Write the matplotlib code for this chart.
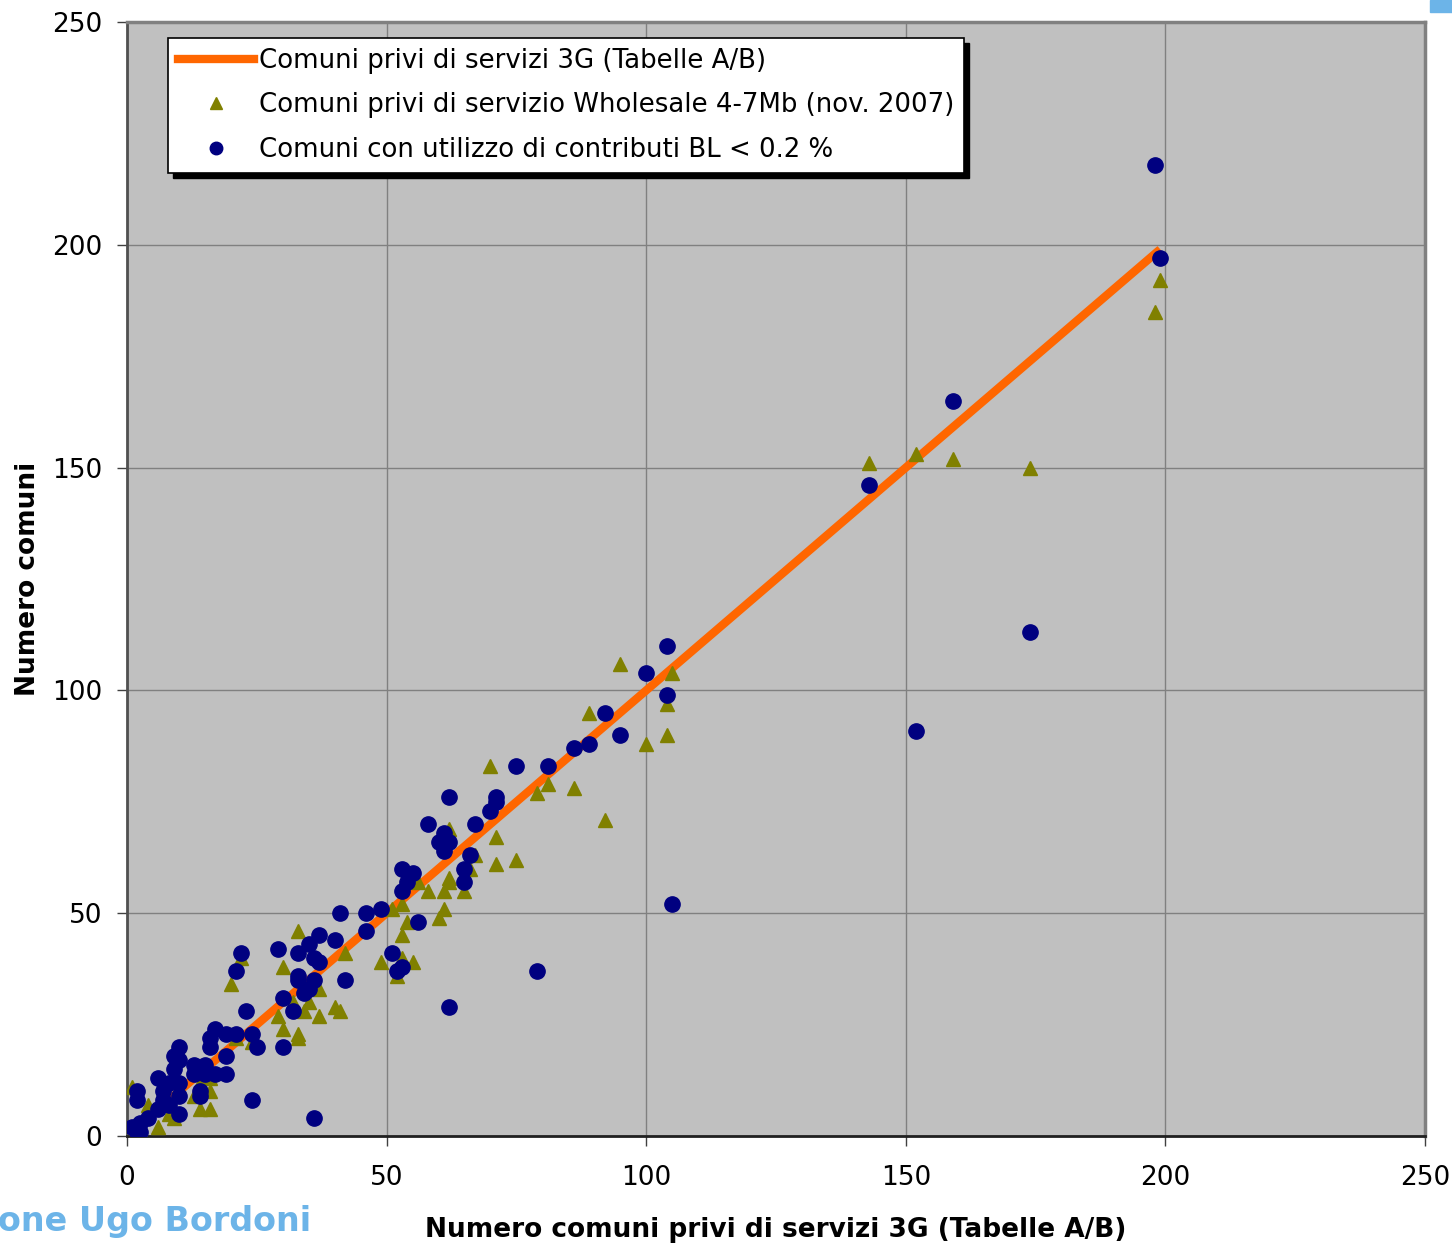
import matplotlib.pyplot as plt
from matplotlib.patches import Rectangle
from matplotlib.lines import Line2D

# Serie 3G (retta di riferimento)
line_x = [2, 199]
line_y = [2, 199]

# Comuni privi di servizio Wholesale 4-7Mb (triangoli)
tri_x = [143, 152, 159, 174, 198, 199, 95, 105, 104, 104, 100, 89, 70, 81, 79, 86, 92, 62, 71, 67,
         71, 75, 66, 62, 62, 58, 61, 65, 56, 53, 51, 61, 60, 54, 53, 49, 53, 55, 52,
         33, 30, 42, 20, 22, 37, 32, 35, 34, 40, 41, 29, 37, 30, 33,
         33, 21, 24, 1, 4, 10, 13, 16, 14, 16, 8, 9, 6, 3, 14, 16]
tri_y = [151, 153, 152, 150, 185, 192, 106, 104, 97, 90, 88, 95, 83, 79, 77, 78, 71, 69, 67, 63,
         61, 62, 60, 58, 57, 55, 55, 55, 57, 52, 51, 51, 49, 48, 45, 39, 40, 39, 36,
         46, 38, 41, 34, 40, 33, 30, 30, 28, 29, 28, 27, 27, 24, 23,
         22, 22, 21, 11, 7, 11, 9, 10, 6, 6, 5, 4, 2, 0, 12, 13]

# Comuni con utilizzo di contributi BL < 0.2 % (cerchi)
dot_x = [198, 199, 159, 143, 174, 152, 104, 100, 104, 92, 95, 89, 86, 81, 75, 71, 71, 70, 67, 62,
         58, 61, 60, 62, 61, 66, 65, 65, 105, 79, 62, 36, 24,
         53, 55, 54, 53, 46, 49, 46, 56, 51, 53, 52,
         41, 37, 40, 35, 29, 33, 22, 36, 37, 21, 33, 33, 36, 42, 35, 34, 30, 32, 23, 17, 16, 19, 21, 24,
         30, 25, 16, 10, 9, 10, 9, 19, 13, 15, 13, 15, 17, 19, 6, 8, 10, 2, 2, 7, 7, 10, 14, 14,
         6, 8, 10, 4, 2.5, 1, 2.5, 2]
dot_y = [218, 197, 165, 146, 113, 91, 110, 104, 99, 95, 90, 88, 87, 83, 83, 76, 75, 73, 70, 76,
         70, 68, 66, 66, 64, 63, 60, 57, 52, 37, 29, 4, 8,
         60, 59, 57, 55, 50, 51, 46, 48, 41, 38, 37,
         50, 45, 44, 43, 42, 41, 41, 40, 39, 37, 36, 35, 35, 35, 33, 32, 31, 28, 28, 24, 22, 23, 23, 23,
         20, 20, 20, 20, 18, 17, 15, 18, 16, 16, 14, 14, 14, 14, 13, 12, 12, 10, 8, 10, 8, 9, 10, 9,
         6, 7, 5, 4, 3, 2, 1, 1]

x_ticks = [0, 50, 100, 150, 200, 250]
y_ticks = [0, 50, 100, 150, 200, 250]

plt.rcParams['font.family'] = ['DejaVu Sans']

fig = plt.figure(figsize=(14.52, 12.5), dpi=100)
ax = fig.add_axes([127 / 1452, 1 - 1136 / 1250, (1425 - 127) / 1452, (1136 - 22) / 1250])
ax.set_facecolor('#C0C0C0')

ax.plot(line_x, line_y, color='#FF6600', lw=6, solid_capstyle='butt', zorder=2)
ax.plot(tri_x, tri_y, ls='none', marker='^', ms=10, color='#808000', mec='#808000', zorder=3)
ax.plot(dot_x, dot_y, ls='none', marker='o', ms=11, color='#000080', mec='#000080', zorder=4)

ax.set_xlim(0, 250)
ax.set_ylim(0, 250)
ax.set_xticks(x_ticks)
ax.set_yticks(y_ticks)
ax.tick_params(axis='x', labelsize=19, length=7, width=1, pad=14, direction='out', color='#404040')
ax.tick_params(axis='y', labelsize=19, length=7, width=1, pad=11, direction='out', color='#404040')
ax.grid(True, color='#808080', lw=1)
ax.set_axisbelow(True)
for side in ['top', 'right']:
    ax.spines[side].set_color('#808080')
    ax.spines[side].set_linewidth(2.5)
ax.spines['left'].set_color('#505050')
ax.spines['left'].set_linewidth(2)
ax.spines['bottom'].set_color('#202020')
ax.spines['bottom'].set_linewidth(2)

ax.set_xlabel('Numero comuni privi di servizi 3G (Tabelle A/B)', fontsize=19, fontweight='bold', va='center')
ax.xaxis.set_label_coords(0.5, -(1230 - 1136) / 1114)
ax.set_ylabel('Numero comuni', fontsize=19, fontweight='bold', va='center')
ax.yaxis.set_label_coords(-(127 - 28) / 1298, 0.5)

handles = [Line2D([], [], color='#FF6600', lw=6),
           Line2D([], [], ls='none', marker='^', ms=9, color='#808000'),
           Line2D([], [], ls='none', marker='o', ms=9, color='#000080')]
labels = ['Comuni privi di servizi 3G (Tabelle A/B)',
          'Comuni privi di servizio Wholesale 4-7Mb (nov. 2007)',
          'Comuni con utilizzo di contributi BL < 0.2 %']
leg = ax.legend(handles, labels, loc='upper left', bbox_to_anchor=((168 - 127) / 1298, (1136 - 38) / 1114),
                borderaxespad=0, fontsize=18.7, frameon=True, fancybox=False, edgecolor='black',
                facecolor='white', framealpha=1, handlelength=2.95, handletextpad=0.2,
                labelspacing=0.72, borderpad=0.37)
leg.get_frame().set_linewidth(1.2)
leg.set_zorder(6)

# ombra nera della legenda
fig.canvas.draw()
bb = leg.get_window_extent()
ax.add_patch(Rectangle(((bb.x0 + 5) / 1452, (bb.y0 - 5) / 1250), bb.width / 1452, bb.height / 1250,
                       transform=fig.transFigure, color='black', zorder=5, clip_on=False))

# logo tagliato in basso a sinistra
fig.text(-2 / 1452, 1 - 1222 / 1250, 'one Ugo Bordoni', ha='left', va='center',
         fontsize=24, fontweight='bold', color='#6CB4E8')
fig.patches.append(Rectangle((1430 / 1452, 1 - 12 / 1250), 22 / 1452, 12 / 1250,
                             transform=fig.transFigure, color='#6CB4E8'))

fig.savefig('out.png', dpi=100)
